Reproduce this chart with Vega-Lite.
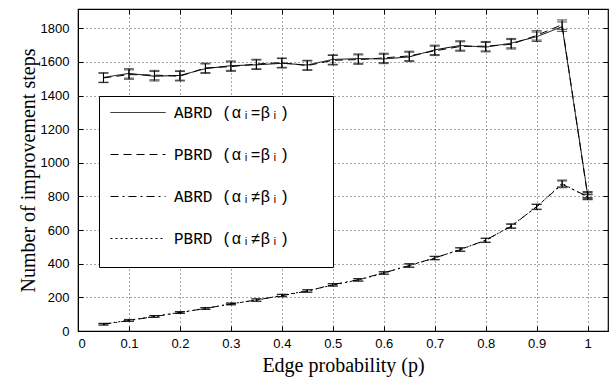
{
  "$schema": "https://vega.github.io/schema/vega-lite/v6.json",
  "width": 530,
  "height": 322,
  "autosize": {"type": "none"},
  "padding": {"left": 78, "top": 9, "right": 1, "bottom": 46},
  "background": "white",
  "config": {
    "view": {"stroke": "black", "strokeWidth": 1.2},
    "axis": {
      "domainColor": "black", "tickColor": "black", "labelColor": "black",
      "labelFont": "Liberation Sans", "labelFontSize": 13,
      "titleFont": "Liberation Serif", "titleFontSize": 20, "titleFontWeight": "normal", "titleColor": "black",
      "gridColor": "black", "gridDash": [1, 3], "gridOpacity": 0.7, "tickSize": -5
    }
  },
  "data": {"values": [
    {"p":0.05,"s":"ABRD  (αᵢ=βᵢ)","v":1508,"lo":1480,"hi":1536},
    {"p":0.1,"s":"ABRD  (αᵢ=βᵢ)","v":1532,"lo":1504,"hi":1560},
    {"p":0.15,"s":"ABRD  (αᵢ=βᵢ)","v":1515,"lo":1487,"hi":1543},
    {"p":0.2,"s":"ABRD  (αᵢ=βᵢ)","v":1520,"lo":1492,"hi":1548},
    {"p":0.25,"s":"ABRD  (αᵢ=βᵢ)","v":1560,"lo":1532,"hi":1588},
    {"p":0.3,"s":"ABRD  (αᵢ=βᵢ)","v":1578,"lo":1550,"hi":1606},
    {"p":0.35,"s":"ABRD  (αᵢ=βᵢ)","v":1583,"lo":1555,"hi":1611},
    {"p":0.4,"s":"ABRD  (αᵢ=βᵢ)","v":1592,"lo":1564,"hi":1620},
    {"p":0.45,"s":"ABRD  (αᵢ=βᵢ)","v":1582,"lo":1554,"hi":1610},
    {"p":0.5,"s":"ABRD  (αᵢ=βᵢ)","v":1615,"lo":1587,"hi":1643},
    {"p":0.55,"s":"ABRD  (αᵢ=βᵢ)","v":1620,"lo":1592,"hi":1648},
    {"p":0.6,"s":"ABRD  (αᵢ=βᵢ)","v":1618,"lo":1590,"hi":1646},
    {"p":0.65,"s":"ABRD  (αᵢ=βᵢ)","v":1630,"lo":1602,"hi":1658},
    {"p":0.7,"s":"ABRD  (αᵢ=βᵢ)","v":1672,"lo":1644,"hi":1700},
    {"p":0.75,"s":"ABRD  (αᵢ=βᵢ)","v":1698,"lo":1670,"hi":1726},
    {"p":0.8,"s":"ABRD  (αᵢ=βᵢ)","v":1688,"lo":1660,"hi":1716},
    {"p":0.85,"s":"ABRD  (αᵢ=βᵢ)","v":1712,"lo":1684,"hi":1740},
    {"p":0.9,"s":"ABRD  (αᵢ=βᵢ)","v":1750,"lo":1722,"hi":1778},
    {"p":0.95,"s":"ABRD  (αᵢ=βᵢ)","v":1810,"lo":1782,"hi":1838},
    {"p":1.0,"s":"ABRD  (αᵢ=βᵢ)","v":812,"lo":794,"hi":830},
    {"p":0.05,"s":"PBRD  (αᵢ=βᵢ)","v":1505,"lo":1477,"hi":1533},
    {"p":0.1,"s":"PBRD  (αᵢ=βᵢ)","v":1525,"lo":1497,"hi":1553},
    {"p":0.15,"s":"PBRD  (αᵢ=βᵢ)","v":1522,"lo":1494,"hi":1550},
    {"p":0.2,"s":"PBRD  (αᵢ=βᵢ)","v":1515,"lo":1487,"hi":1543},
    {"p":0.25,"s":"PBRD  (αᵢ=βᵢ)","v":1565,"lo":1537,"hi":1593},
    {"p":0.3,"s":"PBRD  (αᵢ=βᵢ)","v":1572,"lo":1544,"hi":1600},
    {"p":0.35,"s":"PBRD  (αᵢ=βᵢ)","v":1588,"lo":1560,"hi":1616},
    {"p":0.4,"s":"PBRD  (αᵢ=βᵢ)","v":1596,"lo":1568,"hi":1624},
    {"p":0.45,"s":"PBRD  (αᵢ=βᵢ)","v":1578,"lo":1550,"hi":1606},
    {"p":0.5,"s":"PBRD  (αᵢ=βᵢ)","v":1610,"lo":1582,"hi":1638},
    {"p":0.55,"s":"PBRD  (αᵢ=βᵢ)","v":1614,"lo":1586,"hi":1642},
    {"p":0.6,"s":"PBRD  (αᵢ=βᵢ)","v":1624,"lo":1596,"hi":1652},
    {"p":0.65,"s":"PBRD  (αᵢ=βᵢ)","v":1636,"lo":1608,"hi":1664},
    {"p":0.7,"s":"PBRD  (αᵢ=βᵢ)","v":1666,"lo":1638,"hi":1694},
    {"p":0.75,"s":"PBRD  (αᵢ=βᵢ)","v":1692,"lo":1664,"hi":1720},
    {"p":0.8,"s":"PBRD  (αᵢ=βᵢ)","v":1694,"lo":1666,"hi":1722},
    {"p":0.85,"s":"PBRD  (αᵢ=βᵢ)","v":1705,"lo":1677,"hi":1733},
    {"p":0.9,"s":"PBRD  (αᵢ=βᵢ)","v":1758,"lo":1730,"hi":1786},
    {"p":0.95,"s":"PBRD  (αᵢ=βᵢ)","v":1822,"lo":1794,"hi":1850},
    {"p":1.0,"s":"PBRD  (αᵢ=βᵢ)","v":805,"lo":787,"hi":823},
    {"p":0.05,"s":"ABRD  (αᵢ≠βᵢ)","v":40,"lo":35,"hi":45},
    {"p":0.1,"s":"ABRD  (αᵢ≠βᵢ)","v":62,"lo":57,"hi":67},
    {"p":0.15,"s":"ABRD  (αᵢ≠βᵢ)","v":86,"lo":81,"hi":91},
    {"p":0.2,"s":"ABRD  (αᵢ≠βᵢ)","v":109,"lo":104,"hi":114},
    {"p":0.25,"s":"ABRD  (αᵢ≠βᵢ)","v":135,"lo":130,"hi":140},
    {"p":0.3,"s":"ABRD  (αᵢ≠βᵢ)","v":160,"lo":155,"hi":165},
    {"p":0.35,"s":"ABRD  (αᵢ≠βᵢ)","v":185,"lo":178,"hi":192},
    {"p":0.4,"s":"ABRD  (αᵢ≠βᵢ)","v":210,"lo":203,"hi":217},
    {"p":0.45,"s":"ABRD  (αᵢ≠βᵢ)","v":237,"lo":230,"hi":244},
    {"p":0.5,"s":"ABRD  (αᵢ≠βᵢ)","v":276,"lo":269,"hi":283},
    {"p":0.55,"s":"ABRD  (αᵢ≠βᵢ)","v":305,"lo":298,"hi":312},
    {"p":0.6,"s":"ABRD  (αᵢ≠βᵢ)","v":346,"lo":339,"hi":353},
    {"p":0.65,"s":"ABRD  (αᵢ≠βᵢ)","v":388,"lo":378,"hi":398},
    {"p":0.7,"s":"ABRD  (αᵢ≠βᵢ)","v":435,"lo":425,"hi":445},
    {"p":0.75,"s":"ABRD  (αᵢ≠βᵢ)","v":483,"lo":473,"hi":493},
    {"p":0.8,"s":"ABRD  (αᵢ≠βᵢ)","v":541,"lo":529,"hi":553},
    {"p":0.85,"s":"ABRD  (αᵢ≠βᵢ)","v":622,"lo":610,"hi":634},
    {"p":0.9,"s":"ABRD  (αᵢ≠βᵢ)","v":740,"lo":725,"hi":755},
    {"p":0.95,"s":"ABRD  (αᵢ≠βᵢ)","v":872,"lo":852,"hi":892},
    {"p":1.0,"s":"ABRD  (αᵢ≠βᵢ)","v":800,"lo":785,"hi":815},
    {"p":0.05,"s":"PBRD  (αᵢ≠βᵢ)","v":41,"lo":36,"hi":46},
    {"p":0.1,"s":"PBRD  (αᵢ≠βᵢ)","v":64,"lo":59,"hi":69},
    {"p":0.15,"s":"PBRD  (αᵢ≠βᵢ)","v":87,"lo":82,"hi":92},
    {"p":0.2,"s":"PBRD  (αᵢ≠βᵢ)","v":111,"lo":106,"hi":116},
    {"p":0.25,"s":"PBRD  (αᵢ≠βᵢ)","v":133,"lo":128,"hi":138},
    {"p":0.3,"s":"PBRD  (αᵢ≠βᵢ)","v":162,"lo":157,"hi":167},
    {"p":0.35,"s":"PBRD  (αᵢ≠βᵢ)","v":183,"lo":176,"hi":190},
    {"p":0.4,"s":"PBRD  (αᵢ≠βᵢ)","v":212,"lo":205,"hi":219},
    {"p":0.45,"s":"PBRD  (αᵢ≠βᵢ)","v":239,"lo":232,"hi":246},
    {"p":0.5,"s":"PBRD  (αᵢ≠βᵢ)","v":273,"lo":266,"hi":280},
    {"p":0.55,"s":"PBRD  (αᵢ≠βᵢ)","v":303,"lo":296,"hi":310},
    {"p":0.6,"s":"PBRD  (αᵢ≠βᵢ)","v":344,"lo":337,"hi":351},
    {"p":0.65,"s":"PBRD  (αᵢ≠βᵢ)","v":391,"lo":381,"hi":401},
    {"p":0.7,"s":"PBRD  (αᵢ≠βᵢ)","v":433,"lo":423,"hi":443},
    {"p":0.75,"s":"PBRD  (αᵢ≠βᵢ)","v":486,"lo":476,"hi":496},
    {"p":0.8,"s":"PBRD  (αᵢ≠βᵢ)","v":538,"lo":526,"hi":550},
    {"p":0.85,"s":"PBRD  (αᵢ≠βᵢ)","v":626,"lo":614,"hi":638},
    {"p":0.9,"s":"PBRD  (αᵢ≠βᵢ)","v":737,"lo":722,"hi":752},
    {"p":0.95,"s":"PBRD  (αᵢ≠βᵢ)","v":878,"lo":858,"hi":898},
    {"p":1.0,"s":"PBRD  (αᵢ≠βᵢ)","v":795,"lo":780,"hi":810}
  ]},
  "resolve": {"axis": {"x": "independent", "y": "independent"}},
  "layer": [
    {
      "mark": {"type": "line", "color": "black", "strokeWidth": 1},
      "encoding": {
        "x": {"field": "p", "type": "quantitative", "scale": {"domain": [0, 1.04], "nice": false},
              "axis": {"values": [0,0.1,0.2,0.3,0.4,0.5,0.6,0.7,0.8,0.9,1], "format": "~g", "title": "Edge probability (p)", "labelPadding": 11, "titlePadding": 5, "grid": true}},
        "y": {"field": "v", "type": "quantitative", "scale": {"domain": [0, 1915], "nice": false},
              "axis": {"values": [0,200,400,600,800,1000,1200,1400,1600,1800], "format": "d", "title": "Number of improvement steps", "labelPadding": 14, "titlePadding": 2, "grid": true}},
        "strokeDash": {"field": "s", "type": "nominal",
          "scale": {"domain": ["ABRD  (αᵢ=βᵢ)", "PBRD  (αᵢ=βᵢ)", "ABRD  (αᵢ≠βᵢ)", "PBRD  (αᵢ≠βᵢ)"],
                    "range": [[1, 0], [8, 5], [8, 4, 2, 4], [2, 3]]},
          "legend": {
            "title": null, "orient": "none", "legendX": 21, "legendY": 87,
            "strokeColor": "black", "fillColor": "white", "padding": 6,
            "symbolType": "M -1 0 L 4.5 0 M 20.4 2.0", "symbolSize": 400, "symbolStrokeWidth": 1, "symbolStrokeColor": "black",
            "symbolOffset": 5,
            "labelFont": "Liberation Mono", "labelFontSize": 16, "labelColor": "black", "labelLimit": 400,
            "rowPadding": 9, "labelOffset": 43
          }}
      }
    },
    {
      "mark": {"type": "errorbar", "color": "black", "thickness": 1, "ticks": {"size": 10, "thickness": 1, "color": "black"}},
      "encoding": {
        "x": {"field": "p", "type": "quantitative", "axis": {"orient": "top", "values": [0,0.1,0.2,0.3,0.4,0.5,0.6,0.7,0.8,0.9,1], "labels": false, "title": null, "grid": false, "domain": false}},
        "y": {"field": "lo", "type": "quantitative", "axis": {"orient": "right", "values": [0,200,400,600,800,1000,1200,1400,1600,1800], "labels": false, "title": null, "grid": false, "domain": false}},
        "y2": {"field": "hi"}
      }
    }
  ]
}
